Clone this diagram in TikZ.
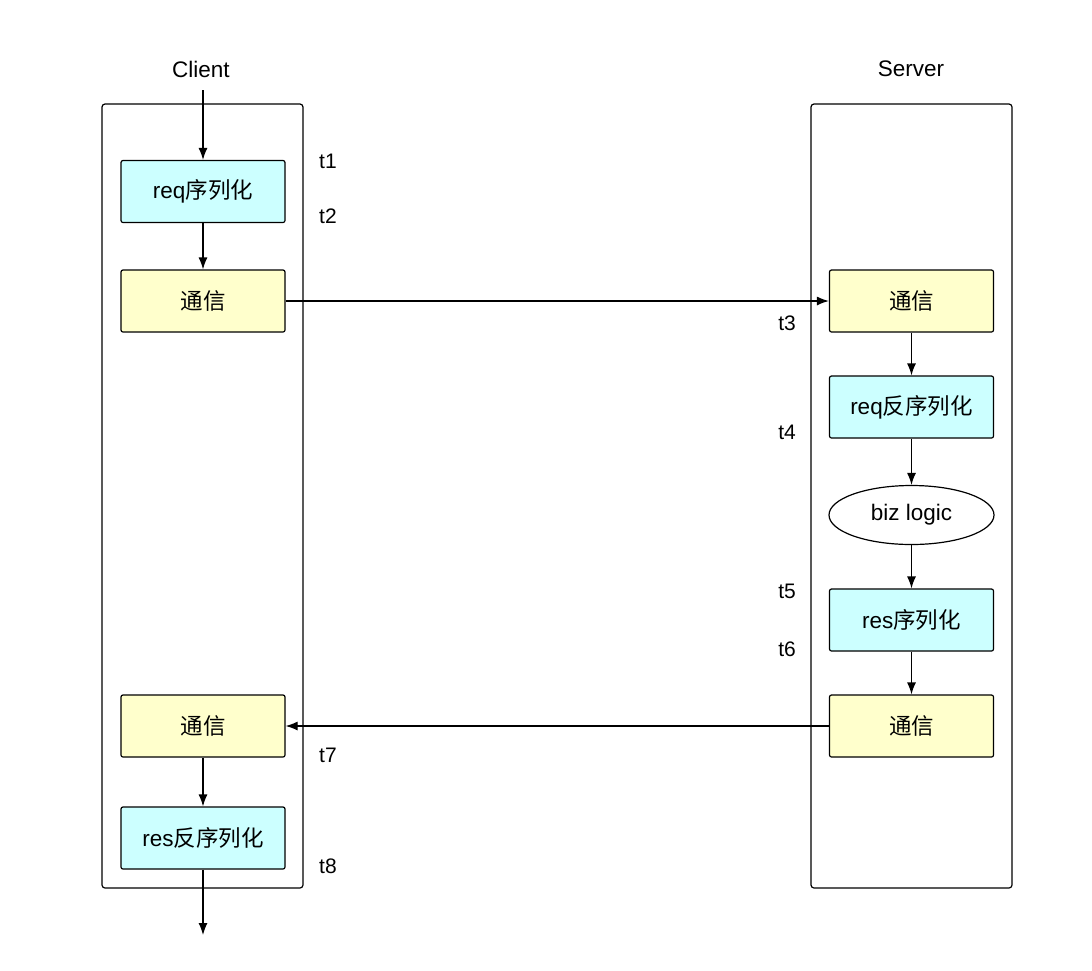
\documentclass[tikz,border=0pt]{standalone}
\usepackage{fontspec}
\setmainfont{Liberation Sans}
\newfontfamily\cjk{Noto Sans CJK SC}
\usetikzlibrary{arrows.meta,shapes.geometric}
\definecolor{sercyan}{HTML}{CCFFFF}
\definecolor{comyellow}{HTML}{FFFFCC}
\tikzset{
    box/.style={draw, rounded corners=2pt, minimum width=164pt, minimum height=62pt, line width=1.2pt},
    serbox/.style={box, fill=sercyan},
    combox/.style={box, fill=comyellow},
    lane/.style={draw, rounded corners=3pt, line width=1.2pt},
    flow/.style={-{Latex[length=12pt,width=9pt]}, line width=1.2pt},
    tlabel/.style={font=\fontsize{21}{25}\selectfont},
}
\begin{document}
\begin{tikzpicture}[x=1pt, y=-1pt, font=\fontsize{22.5}{27}\selectfont]
            \useasboundingbox (0,0) rectangle (1092,970);
            % les deux colonnes
            \draw[lane] (102,104) rectangle (303,888);
            \draw[lane] (811,104) rectangle (1012,888);
            \node (client) at (201,69) {Client};
            \node (server) at (911,69) {Server};

            % cote client
            \coordinate (cin) at (203,90);
            \node[serbox] (reqser) at (203,191.5) {req{\cjk 序列化}};
            \node[combox] (ccom1) at (203,301) {\cjk 通信};
            \node[combox] (ccom2) at (203,726) {\cjk 通信};
            \node[serbox] (resdeser) at (203,838) {res{\cjk 反序列化}};
            \coordinate (cout) at (203,935);

            % cote serveur
            \node[combox] (scom1) at (911.5,301) {\cjk 通信};
            \node[serbox] (reqdeser) at (911.5,407) {req{\cjk 反序列化}};
            \node[draw, ellipse, line width=1.2pt, minimum width=165pt, minimum height=59pt] (biz) at (911.5,515) {biz logic};
            \node[serbox] (resser) at (911.5,620) {res{\cjk 序列化}};
            \node[combox] (scom2) at (911.5,726) {\cjk 通信};

            \draw[flow] (cin) -- (reqser);
            \draw[flow] (reqser) -- (ccom1);
            \draw[flow] (ccom1) -- (scom1);
            \draw[flow] (scom1) -- (reqdeser);
            \draw[flow] (reqdeser) -- (biz);
            \draw[flow] (biz) -- (resser);
            \draw[flow] (resser) -- (scom2);
            \draw[flow] (scom2) -- (ccom2);
            \draw[flow] (ccom2) -- (resdeser);
            \draw[flow] (resdeser) -- (cout);

            % les instants
            \node[tlabel] (t1) at (328,161) {t1};
            \node[tlabel] (t2) at (328,216) {t2};
            \node[tlabel] (t3) at (787,323) {t3};
            \node[tlabel] (t4) at (787,432) {t4};
            \node[tlabel] (t5) at (787,591) {t5};
            \node[tlabel] (t6) at (787,649) {t6};
            \node[tlabel] (t7) at (328,755) {t7};
            \node[tlabel] (t8) at (328,866) {t8};
        \end{tikzpicture}
\end{document}
